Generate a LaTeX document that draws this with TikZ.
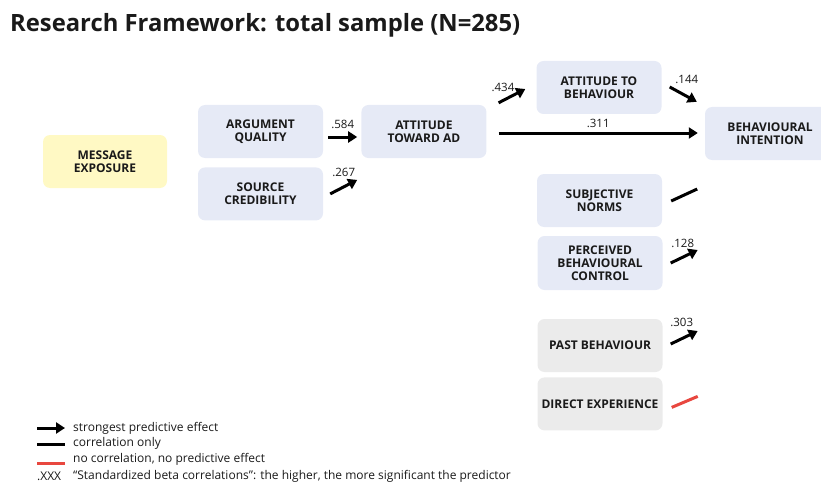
\documentclass[tikz,border=0pt]{standalone}
\usepackage{fontspec}
\setmainfont{Open Sans}
\usepackage{xcolor}
\definecolor{boxblue}{HTML}{E6EAF6}
\definecolor{boxyellow}{HTML}{FFF9C4}
\definecolor{boxgray}{HTML}{EBEBEB}
\definecolor{nocorrred}{HTML}{E8473F}
\definecolor{inkblack}{HTML}{1A1A1A}
\usepackage{tikz}
\usetikzlibrary{arrows.meta,positioning}
\tikzset{
  >={Triangle[length=9pt,width=11pt]},
  factor/.style={rectangle,rounded corners=7pt,fill=boxblue,minimum width=125pt,minimum height=53pt,align=center,text=inkblack,font=\bfseries\fontsize{12}{13}\selectfont},
  exposure/.style={factor,fill=boxyellow,minimum width=124pt},
  extra/.style={factor,fill=boxgray},
  effect/.style={->,line width=3pt,draw=black},
  corr/.style={line width=3pt,draw=black},
  nocorr/.style={line width=3pt,draw=nocorrred},
  beta/.style={font=\fontsize{11.5}{13}\selectfont,text=inkblack,inner sep=1pt},
  legend/.style={font=\fontsize{12}{14}\selectfont,text=inkblack,anchor=west,inner sep=0pt}
}

\begin{document}
\begin{tikzpicture}[x=1pt,y=-1pt]
  \useasboundingbox (0,0) rectangle (821,484);

  % Title
  \node[anchor=west,inner sep=0pt,text=inkblack,font=\bfseries\fontsize{23.8}{28}\selectfont] (title) at (10,25) {Research Framework: total sample (N=285)};

  % Factors
  \node[exposure] (me) at (105,161.5) {MESSAGE\\EXPOSURE};
  \node[factor] (aq) at (260.5,131.5) {ARGUMENT\\QUALITY};
  \node[factor,below=9pt of aq] (sc) {SOURCE\\CREDIBILITY};
  \node[factor,right=38pt of aq] (ata) {ATTITUDE\\TOWARD AD};
  \node[factor] (atb) at (599,87.5) {ATTITUDE TO\\BEHAVIOUR};
  \node[factor,minimum width=130pt] (bi) at (770,133.5) {BEHAVIOURAL\\INTENTION};
  \node[factor] (sn) at (599.5,200.5) {SUBJECTIVE\\NORMS};
  \node[factor,minimum height=54pt] (pbc) at (600,263) {PERCEIVED\\BEHAVIOURAL\\CONTROL};
  \node[extra] (pb) at (600,345.5) {PAST BEHAVIOUR};
  \node[extra,below=5pt of pb] (de) {DIRECT EXPERIENCE};

  % Free ends of the short effect strokes
  \coordinate (sc-end) at ([xshift=34pt,yshift=14pt]sc.east);
  \coordinate (sn-end) at ([xshift=35pt,yshift=11.5pt]sn.east);
  \coordinate (pbc-end) at ([xshift=35pt,yshift=13pt]pbc.east);
  \coordinate (pb-end) at ([xshift=35pt,yshift=14.5pt]pb.east);
  \coordinate (de-end) at ([xshift=35pt,yshift=7.5pt]de.east);

  % Effects
  \draw[effect] ([xshift=5pt,yshift=-5.5pt]aq.east) -- ([xshift=-4pt,yshift=-5.5pt]ata.west)
    node[beta,midway,above=6pt] (b584) {.584};
  \draw[effect] ([xshift=7pt]sc.east) -- (sc-end)
    node[beta,midway,above=8pt] (b267) {.267};
  \draw[effect] ([xshift=12pt,yshift=2pt]ata.north east) -- ([xshift=-11pt,yshift=-1.5pt]atb.west)
    node[beta,midway,above=2pt,xshift=-9pt] (b434) {.434};
  \draw[effect] ([xshift=12pt,yshift=-1.5pt]ata.east) -- ([xshift=-7pt,yshift=0.5pt]bi.west)
    node[beta,midway,above=3pt] (b311) {.311};
  \draw[effect] ([xshift=8pt,yshift=0.5pt]atb.east) -- ([xshift=-8pt,yshift=5pt]bi.north west)
    node[beta,midway,above=8pt,xshift=3.5pt] (b144) {.144};
  \draw[corr] ([xshift=9pt,yshift=-0.5pt]sn.east) -- (sn-end);
  \draw[effect] ([xshift=8pt]pbc.east) -- (pbc-end)
    node[beta,midway,above=6.5pt,xshift=-1.5pt] (b128) {.128};
  \draw[effect] ([xshift=8pt,yshift=1.5pt]pb.east) -- (pb-end)
    node[beta,midway,above=8.5pt,xshift=-2.5pt] (b303) {.303};
  \draw[nocorr] ([xshift=9pt,yshift=-3.5pt]de.east) -- (de-end);

  % Legend
  \coordinate (lg1) at (37,428);
  \coordinate (lg2) at (37,444);
  \coordinate (lg3) at (37,463);
  \draw[effect] (lg1) -- ++(28,0);
  \draw[corr] (lg2) -- ++(28,0);
  \draw[nocorr] (lg3) -- ++(28,0);
  \node[legend] (lgt1) at (73,428) {strongest predictive effect};
  \node[legend] (lgt2) at (73,443) {correlation only};
  \node[legend] (lgt3) at (73,459) {no correlation, no predictive effect};
  \node[legend] (lgx) at (37,476) {.XXX};
  \node[legend] (lgt4) at (73,476) {“Standardized beta correlations”: the higher, the more significant the predictor};
\end{tikzpicture}
\end{document}
